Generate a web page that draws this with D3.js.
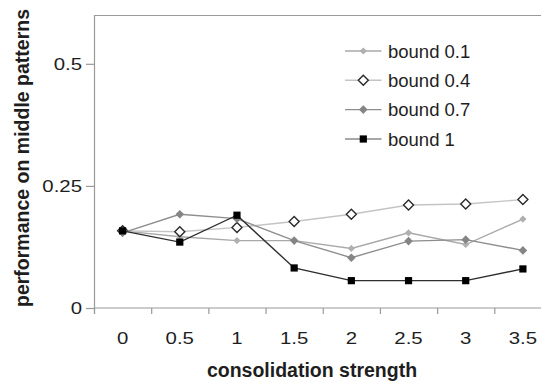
<!DOCTYPE html>
<html>
<head>
<meta charset="utf-8">
<script src="https://cdn.jsdelivr.net/npm/d3@7"></script>
<style>
  body { margin: 0; background: #fff; }
  svg { display: block; font-family: "Liberation Sans", Arial, sans-serif; }
</style>
</head>
<body>
<div id="chart"></div>
<script>
// consolidation strength categories
var strengths = ["0", "0.5", "1", "1.5", "2", "2.5", "3", "3.5"];

// performance on middle patterns, one array per bound
var bound01 = [0.158, 0.146, 0.138, 0.138, 0.122, 0.154, 0.130, 0.182];
var bound04 = [0.158, 0.156, 0.165, 0.177, 0.192, 0.211, 0.213, 0.222];
var bound07 = [0.154, 0.192, 0.183, 0.138, 0.103, 0.137, 0.140, 0.118];
var bound1  = [0.158, 0.135, 0.190, 0.082, 0.056, 0.056, 0.056, 0.080];

var seriesNames = ["bound 0.1", "bound 0.4", "bound 0.7", "bound 1"];
var yTicks = [0, 0.25, 0.5];

var series = [
    { name: seriesNames[0], values: bound01, line: "#a9a9a9", shape: "diamond", size: 3.6, fill: "#b0b0b0", stroke: "none" },
    { name: seriesNames[1], values: bound04, line: "#c4c4c4", shape: "diamond", size: 5, fill: "#fff", stroke: "#2a2a2a" },
    { name: seriesNames[2], values: bound07, line: "#8e8e8e", shape: "diamond", size: 4.3, fill: "#858585", stroke: "none" },
    { name: seriesNames[3], values: bound1, line: "#2e2e2e", shape: "square", size: 3.6, fill: "#000", stroke: "none" }
];

var width = 541, height = 382;
var plot = { left: 94, right: 551.5, top: 15, bottom: 308 };

var svg = d3.select("#chart").append("svg")
    .attr("width", width)
    .attr("height", height);

// scales
var x = d3.scaleBand().domain(strengths).range([plot.left, plot.right]).padding(0);
var xb = d3.scaleLinear().domain([0, strengths.length]).range([plot.left, plot.right]);
var y = d3.scaleLinear().domain([0, 0.6]).range([plot.bottom, plot.top]);

var axisColor = "#9a9a9a";
var tickScale = 1.2;

// top frame line
svg.append("line")
    .attr("x1", plot.left).attr("x2", width)
    .attr("y1", y(0.6) + 0.5).attr("y2", y(0.6) + 0.5)
    .attr("stroke", axisColor).attr("stroke-width", 1.2);

// x tick marks at category boundaries
var xTickG = svg.append("g")
    .attr("transform", "translate(0," + plot.bottom + ")")
    .call(d3.axisBottom(xb).tickValues(d3.range(0, strengths.length + 1)).tickSize(6).tickFormat(""));
xTickG.select(".domain").remove();
xTickG.selectAll("line").attr("stroke", axisColor).attr("stroke-width", 1.2);

// x labels
var xLab = svg.append("g")
    .attr("transform", "translate(0," + plot.bottom + ")")
    .call(d3.axisBottom(x).tickSize(0).tickPadding(24));
xLab.select(".domain").remove();
xLab.selectAll("text")
    .attr("font-size", 17)
    .attr("fill", "#1e1e1e")
    .attr("font-family", "Liberation Sans, Arial, sans-serif")
    .attr("transform", "scale(" + tickScale + ",1)");

// x axis line
svg.append("line")
    .attr("x1", plot.left).attr("x2", width)
    .attr("y1", plot.bottom).attr("y2", plot.bottom)
    .attr("stroke", axisColor).attr("stroke-width", 1.2);

// y axis
var yAx = svg.append("g")
    .attr("transform", "translate(" + plot.left + ",0)")
    .call(d3.axisLeft(y).tickValues(yTicks).tickSize(8).tickPadding(4)
        .tickFormat(function(d) { return String(d); }));
yAx.select(".domain").attr("stroke", axisColor).attr("stroke-width", 1.2)
    .attr("d", "M0.5," + plot.top + "V" + (plot.bottom + 6));
yAx.selectAll("line").attr("stroke", axisColor).attr("stroke-width", 1.2);
yAx.selectAll("text")
    .attr("font-size", 17)
    .attr("fill", "#1e1e1e")
    .attr("font-family", "Liberation Sans, Arial, sans-serif")
    .attr("x", -12 / tickScale)
    .attr("transform", "scale(" + tickScale + ",1)");

// axis titles
svg.append("text")
    .attr("x", 312).attr("y", 377)
    .attr("text-anchor", "middle")
    .attr("font-size", 19.5).attr("font-weight", "bold")
    .attr("fill", "#1e1e1e")
    .text("consolidation strength");

svg.append("text")
    .attr("transform", "translate(29,158) rotate(-90)")
    .attr("text-anchor", "middle")
    .attr("font-size", 19.5).attr("font-weight", "bold")
    .attr("fill", "#1e1e1e")
    .text("performance on middle patterns");

// marker drawing helper
function drawMarker(g, s, cx, cy) {
    if (s.shape === "diamond") {
        var r = s.size;
        g.append("path")
            .attr("d", "M" + cx + "," + (cy - r) + "L" + (cx + r) + "," + cy + "L" + cx + "," + (cy + r) + "L" + (cx - r) + "," + cy + "Z")
            .attr("fill", s.fill)
            .attr("stroke", s.stroke)
            .attr("stroke-width", s.stroke === "none" ? 0 : 1.4);
    } else {
        g.append("rect")
            .attr("x", cx - s.size).attr("y", cy - s.size)
            .attr("width", s.size * 2).attr("height", s.size * 2)
            .attr("fill", s.fill);
    }
}

var line = d3.line()
    .x(function(d, i) { return x(strengths[i]) + x.bandwidth() / 2; })
    .y(function(d) { return y(d); });

series.forEach(function(s) {
    var g = svg.append("g");
    g.append("path")
        .attr("d", line(s.values))
        .attr("fill", "none")
        .attr("stroke", s.line)
        .attr("stroke-width", 1.4);
    s.values.forEach(function(v, i) {
        drawMarker(g, s, x(strengths[i]) + x.bandwidth() / 2, y(v));
    });
});

// legend
var legendY = [51, 80.3, 109.6, 139];
series.forEach(function(s, i) {
    var g = svg.append("g");
    g.append("line")
        .attr("x1", 345).attr("x2", 381.5)
        .attr("y1", legendY[i]).attr("y2", legendY[i])
        .attr("stroke", i === 3 ? "#8a8a8a" : s.line)
        .attr("stroke-width", 1.4);
    drawMarker(g, s, 363.3, legendY[i]);
    g.append("text")
        .attr("x", 388).attr("y", legendY[i] + 6.5)
        .attr("font-size", 18.5)
        .attr("fill", "#1e1e1e")
        .text(s.name);
});
</script>
</body>
</html>
